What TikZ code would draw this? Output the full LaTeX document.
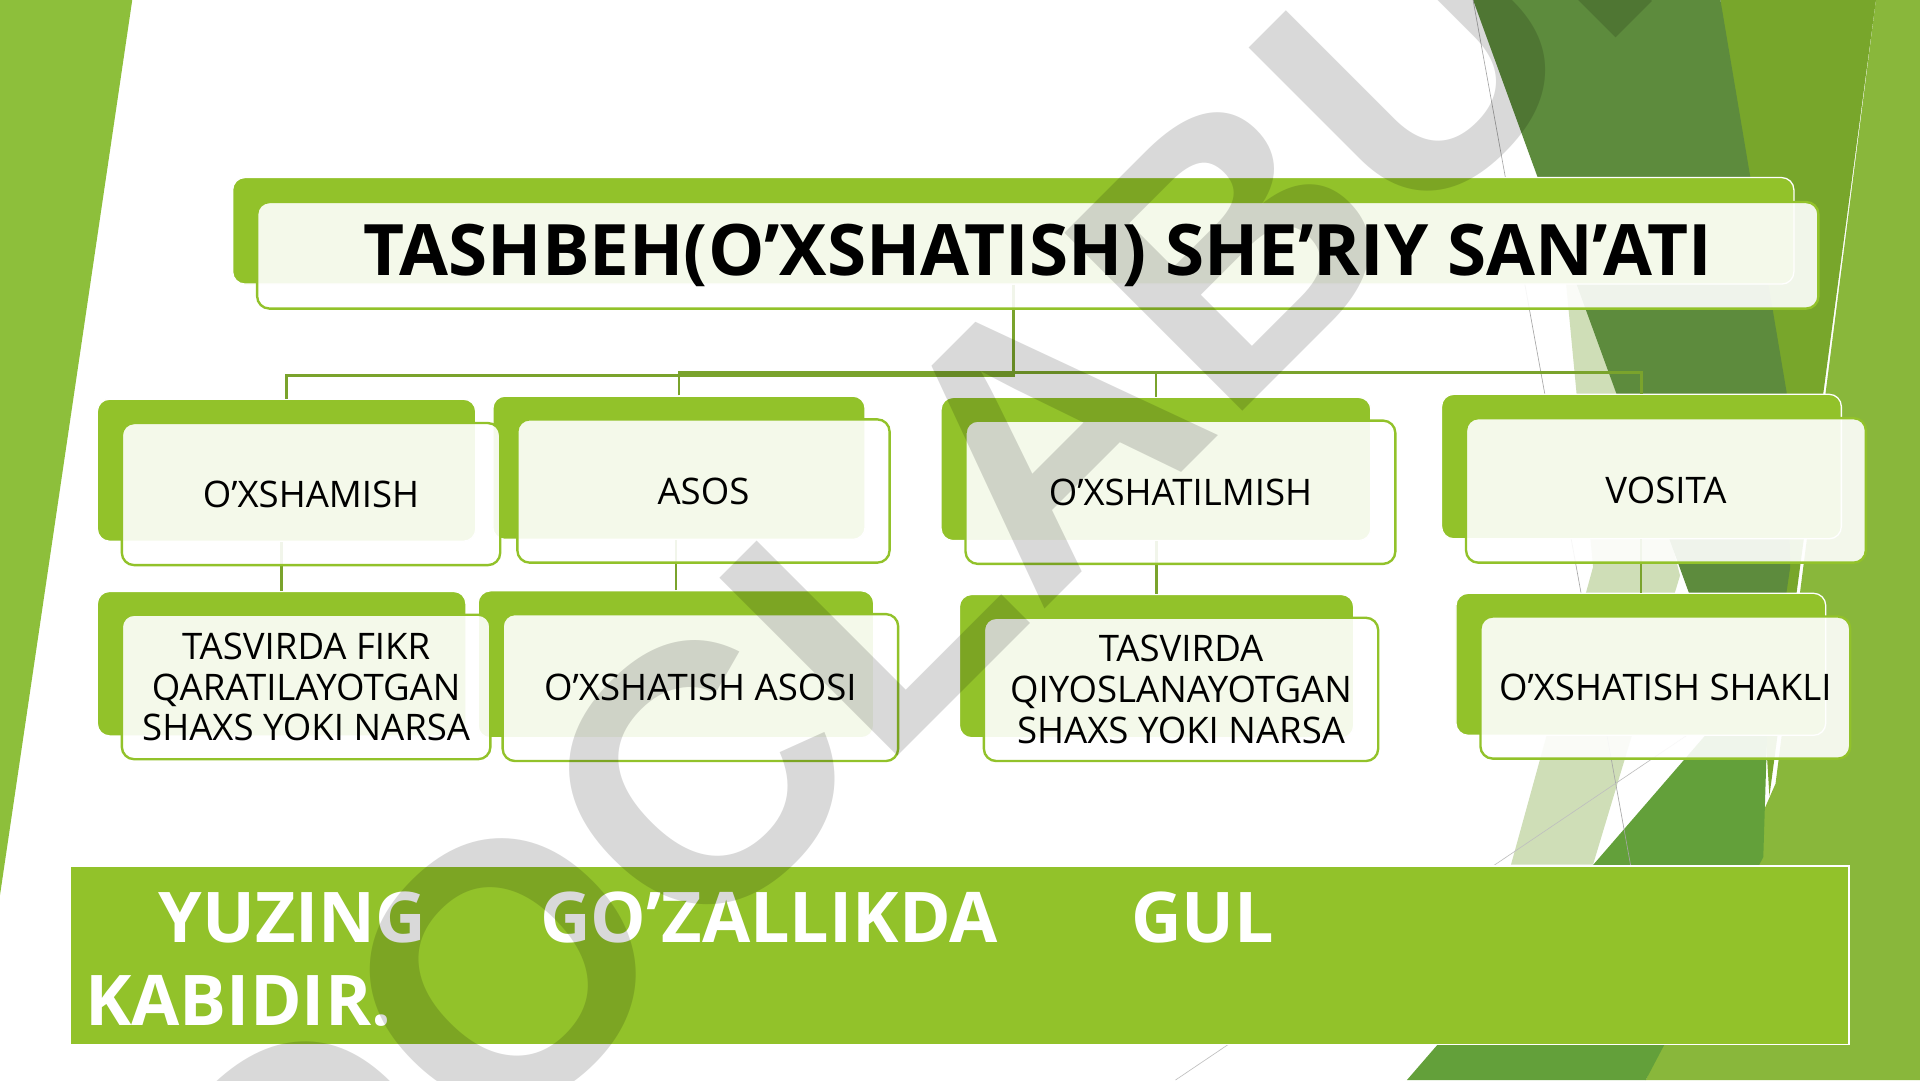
\documentclass[tikz,border=0pt]{standalone}
\usepackage{fontspec}
\setmainfont{Open Sans}
\newfontfamily\markfont{Liberation Sans}
\usepackage{tikz}

\definecolor{leaf}{HTML}{92C22A}
\definecolor{stemgreen}{HTML}{7AA32C}
\definecolor{bandgreen}{HTML}{8DBF3B}
\definecolor{darkleaf}{HTML}{5D8B3D}
\definecolor{midleaf}{HTML}{78A62B}
\definecolor{lightleaf}{HTML}{89B73B}
\definecolor{grassleaf}{HTML}{63A03A}
\definecolor{paleleaf}{HTML}{CFDEB7}

\begin{document}
\begin{tikzpicture}[
		backcard/.style={draw=white, line width=0.6pt, fill=leaf, rounded corners=0.2cm, inner sep=0pt},
		frontcard/.style={draw=leaf, line width=1.1pt, fill=white, fill opacity=0.9, text opacity=1, rounded corners=0.2cm, inner sep=0pt, align=center, font=\fontsize{17}{19}\selectfont},
		link/.style={draw=stemgreen, line width=1.2pt},
		banner/.style={draw=white, line width=0.8pt, fill=leaf, inner sep=0pt, minimum width=29.06cm, minimum height=2.92cm},
	]
	\fill [white] (0,0) rectangle (31.36,-17.64);
	\useasboundingbox (0,0) rectangle (31.36,-17.64);
	% slide background
	\fill [bandgreen] (0,0) -- (2.16,0) -- (0,-14.62) -- cycle;
	\fill [paleleaf] (25.5,-3.8) -- (26.0,-3.8) -- (27.44,-9.4) -- (26.02,-14.12) -- (24.68,-14.12) -- (26.02,-9.26) -- cycle;
	\fill [lightleaf] (30.64,0) -- (31.36,0) -- (31.36,-17.64) -- (26.88,-17.64) -- (29.0,-12.8) -- cycle;
	\fill [midleaf] (28.1,0) -- (30.64,0) -- (28.9,-13.0) -- cycle;
	\fill [darkleaf] (24.06,0) -- (28.1,0) -- (29.18,-6.4) -- (29.24,-9.26) -- (28.72,-12.8) -- cycle;
	\fill [grassleaf] (22.98,-17.64) -- (28.9,-10.8) -- (28.8,-14.0) -- (26.88,-17.64) -- cycle;
	\draw [black!35, line width=0.3pt] (24.06,0) -- (26.9,-15.6);
	\draw [black!25, line width=0.3pt] (19.2,-17.64) -- (29.2,-10.9);
	% back cards
	\node [backcard, minimum width=25.5cm, minimum height=1.74cm] (b0) at (16.55,-3.77) {};
	\node [backcard, minimum width=6.18cm, minimum height=2.32cm] (o1) at (4.68,-7.68) {};
	\node [backcard, minimum width=6.08cm, minimum height=2.34cm] (o2) at (11.09,-7.64) {};
	\node [backcard, minimum width=7.02cm, minimum height=2.34cm] (o3) at (18.88,-7.66) {};
	\node [backcard, minimum width=6.53cm, minimum height=2.36cm] (o4) at (26.81,-7.62) {};
	\node [backcard, minimum width=6.02cm, minimum height=2.36cm] (d1) at (4.60,-10.84) {};
	\node [backcard, minimum width=6.46cm, minimum height=2.40cm] (d2) at (11.04,-10.85) {};
	\node [backcard, minimum width=6.44cm, minimum height=2.34cm] (d3) at (18.89,-10.88) {};
	\node [backcard, minimum width=6.04cm, minimum height=2.32cm] (d4) at (26.80,-10.85) {};
	% connectors
	\coordinate (forkL) at ([yshift=-1.48cm]b0.south);
	\coordinate (forkR) at ([yshift=-1.43cm]b0.south);
	\draw [link] (b0.south) -- (forkL) -| (o1.north);
	\draw [link] (o2.north) |- (forkR) -| (o4.north);
	\draw [link] (o3.north) -- (o3.north |- forkR);
	\draw [link] (d1.north) -- (d1.north |- o1.south);
	\draw [link] (d2.north) -- (d2.north |- o2.south);
	\draw [link] (d3.north) -- (d3.north |- o3.south);
	\draw [link] (d4.north) -- (d4.north |- o4.south);
	% front cards
	\node [frontcard, minimum width=25.5cm, minimum height=1.74cm, font=\fontsize{33}{40}\selectfont\bfseries] (f0) at ([shift={(0.4,-0.4)}]b0.center) {TASHBEH(O’XSHATISH) SHE’RIY SAN’ATI};
	\node [frontcard, minimum width=6.18cm, minimum height=2.32cm] (g1) at ([shift={(0.4,-0.39)}]o1.center) {O’XSHAMISH};
	\node [frontcard, minimum width=6.08cm, minimum height=2.34cm] (g2) at ([shift={(0.4,-0.38)}]o2.center) {ASOS};
	\node [frontcard, minimum width=7.02cm, minimum height=2.34cm] (g3) at ([shift={(0.4,-0.38)}]o3.center) {O’XSHATILMISH};
	\node [frontcard, minimum width=6.53cm, minimum height=2.36cm] (g4) at ([shift={(0.4,-0.39)}]o4.center) {VOSITA};
	\node [frontcard, minimum width=6.02cm, minimum height=2.36cm] (e1) at ([shift={(0.4,-0.38)}]d1.center) {TASVIRDA FIKR\\QARATILAYOTGAN\\SHAXS YOKI NARSA};
	\node [frontcard, minimum width=6.46cm, minimum height=2.40cm] (e2) at ([shift={(0.4,-0.38)}]d2.center) {O’XSHATISH ASOSI};
	\node [frontcard, minimum width=6.44cm, minimum height=2.34cm] (e3) at ([shift={(0.4,-0.38)}]d3.center) {TASVIRDA\\QIYOSLANAYOTGAN\\SHAXS YOKI NARSA};
	\node [frontcard, minimum width=6.04cm, minimum height=2.32cm] (e4) at ([shift={(0.4,-0.38)}]d4.center) {O’XSHATISH SHAKLI};
	% example line
	\node [banner] (verse) at (15.67,-15.6) {};
	\node [anchor=base west, align=left, inner sep=0pt, text=white, font=\fontsize{32.5}{38.7}\selectfont\bfseries] (versetext) at ([shift={(0.26,-2.62)}]verse.north west) {\hspace*{1.2cm}YUZING\hspace{1.86cm}GO’ZALLIKDA\hspace{2.18cm}GUL\\KABIDIR.};
	% watermark
	\node [rotate=45, inner sep=0pt, text=black, text opacity=0.15, font=\fontsize{170}{175}\selectfont\markfont\bfseries] (stamp) at (17.5,-6.6) {DOCLABU.UZ};
\end{tikzpicture}
\end{document}
